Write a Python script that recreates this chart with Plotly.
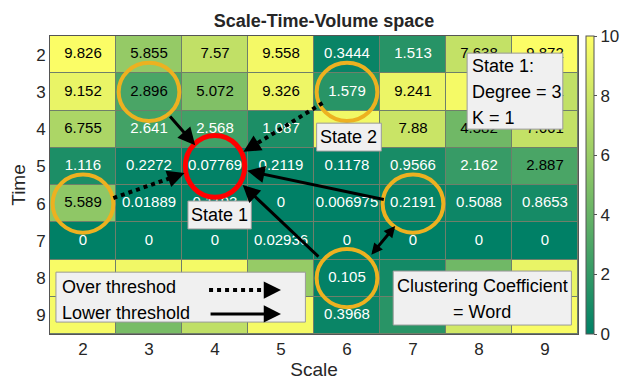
import plotly.graph_objects as go

# Scale (x) / Time (y) grid and the volume values of each cell
scales = [2, 3, 4, 5, 6, 7, 8, 9]
times = [2, 3, 4, 5, 6, 7, 8, 9]
volume = [
    [9.826, 5.855, 7.57, 9.558, 0.3444, 1.513, 7.638, 9.872],
    [9.152, 2.896, 5.072, 9.326, 1.579, 9.241, 9.62, 7.561],
    [6.755, 2.641, 2.568, 1.087, 9.47, 7.88, 4.382, 7.661],
    [1.116, 0.2272, 0.07769, 0.2119, 0.1178, 0.9566, 2.162, 2.887],
    [5.589, 0.01889, 0.1193, 0, 0.006975, 0.2191, 0.5088, 0.8653],
    [0, 0, 0, 0.02936, 0, 0, 0, 0],
    [9.71, 9.45, 9.58, 5.9, 0.105, 0.8, 4.4, 9.13],
    [9.66, 4.7, 7.5, 9.62, 0.3968, 1.6, 8.2, 9.77],
]
# highlighted cells (scale, time)
orange_cells = [(3, 3), (6, 3), (2, 6), (7, 6), (6, 8)]
red_cell = (4, 5)
# cells whose label sits fully under a text box
covered_cells = [(8, 3), (6, 4),
                 (2, 8), (3, 8), (4, 8), (5, 8), (7, 8), (8, 8), (9, 8),
                 (2, 9), (3, 9), (4, 9), (5, 9), (7, 9), (8, 9), (9, 9)]

FONT = "Liberation Sans, Arial, sans-serif"
INK = "#262626"

fig = go.Figure()
fig.add_trace(go.Heatmap(
    x=scales, y=times, z=volume,
    zmin=0, zmax=10,
    colorscale=[[0, "rgb(0,128,102)"], [1, "rgb(255,255,102)"]],
    xgap=1, ygap=1,
    hoverinfo="skip",
    colorbar=dict(
        x=1, xanchor="left", xpad=8, thickness=8, len=1, ypad=0,
        outlinewidth=1, outlinecolor="#555555",
        ticks="outside", ticklen=3, tickcolor="#555555",
        tickvals=[0, 2, 4, 6, 8, 10],
        tickfont=dict(family=FONT, size=17, color=INK),
    ),
))

# cell labels
tx, ty, tt, tc = [], [], [], []
for i, t in enumerate(times):
    for j, s in enumerate(scales):
        if (s, t) in covered_cells:
            continue
        v = volume[i][j]
        tx.append(s)
        ty.append(t)
        tt.append(format(v, ".4g"))
        tc.append("white" if v < 2.75 else "black")
fig.add_trace(go.Scatter(
    x=tx, y=ty, text=tt, mode="text",
    textfont=dict(family=FONT, size=15, color=tc),
    hoverinfo="skip", showlegend=False,
))

shapes = []
for (s, t) in orange_cells:
    shapes.append(dict(type="circle", xref="x", yref="y",
                       x0=s - 0.46, x1=s + 0.46, y0=t - 0.78, y1=t + 0.78,
                       line=dict(color="#EDB120", width=4)))
s, t = red_cell
shapes.append(dict(type="circle", xref="x", yref="y",
                   x0=s - 0.45, x1=s + 0.45, y0=t - 0.83, y1=t + 0.83,
                   line=dict(color="#FF0000", width=5)))

annotations = []


def arrow(tail, head, dotted=False, both=False, size=1.15):
    if dotted:
        k = 0.82
        mid = (tail[0] + (head[0] - tail[0]) * k, tail[1] + (head[1] - tail[1]) * k)
        shapes.append(dict(type="line", xref="x", yref="y",
                           x0=tail[0], y0=tail[1], x1=mid[0], y1=mid[1],
                           line=dict(color="black", width=4, dash="dot")))
        tail = mid
    annotations.append(dict(
        x=head[0], y=head[1], ax=tail[0], ay=tail[1],
        xref="x", yref="y", axref="x", ayref="y",
        text="", showarrow=True, arrowhead=2, arrowsize=size,
        arrowwidth=3, arrowcolor="black",
        arrowside="end+start" if both else "end", startarrowhead=2,
        startarrowsize=size,
    ))


arrow((3.30, 3.62), (3.70, 4.43))
arrow((5.63, 3.30), (4.43, 4.61), dotted=True)
arrow((2.46, 5.85), (3.54, 5.18), dotted=True)
arrow((6.58, 5.90), (4.49, 5.12))
arrow((5.59, 7.46), (4.42, 5.50))
arrow((6.35, 7.41), (6.73, 6.60), both=True, size=0.75)


def box(x0, x1, y0, y1):
    shapes.append(dict(type="rect", xref="x", yref="y",
                       x0=x0, x1=x1, y0=y0, y1=y1,
                       fillcolor="#F0F0F0", line=dict(color="#9a9a9a", width=1)))


def label(x, y, text, xanchor="center"):
    annotations.append(dict(x=x, y=y, xref="x", yref="y", text=text,
                            showarrow=False, xanchor=xanchor, yanchor="middle",
                            align=xanchor if xanchor != "center" else "center",
                            font=dict(family=FONT, size=18, color="black")))


box(3.59, 4.55, 5.93, 6.68)
label(4.07, 6.30, "State 1")
box(5.54, 6.52, 3.84, 4.59)
label(6.03, 4.21, "State 2")
box(7.82, 9.27, 1.96, 4.00)
label(7.87, 2.30, "State 1:", "left")
label(7.87, 3.01, "Degree = 3", "left")
label(7.87, 3.69, "K = 1", "left")
box(6.70, 9.40, 7.81, 9.26)
label(8.05, 8.20, "Clustering Coefficient")
label(8.05, 8.92, "= Word")

# legend box
box(1.59, 5.37, 7.84, 9.18)
label(1.65, 8.25, "Over threshod", "left")
label(1.65, 8.94, "Lower threshold", "left")
arrow((3.91, 8.32), (5.00, 8.32), dotted=True)
arrow((3.91, 8.96), (5.00, 8.96))

fig.update_layout(
    width=632, height=382,
    margin=dict(l=42, r=42, t=28, b=56),
    paper_bgcolor="white", plot_bgcolor="#6f7f6a",
    title=dict(text="<b>Scale-Time-Volume space</b>", x=0.5, xanchor="center",
               y=0.968, yanchor="middle",
               font=dict(family=FONT, size=18, color=INK)),
    xaxis=dict(range=[1.5, 9.5], tickvals=scales, showgrid=False, zeroline=False,
               showline=True, mirror=True, linecolor="#555555", ticks="",
               tickfont=dict(family=FONT, size=17, color=INK),
               title=dict(text="Scale", standoff=4,
                          font=dict(family=FONT, size=19, color=INK)),
               automargin=False),
    yaxis=dict(range=[9.5, 1.5], tickvals=times, showgrid=False, zeroline=False,
               showline=True, mirror=True, linecolor="#555555", ticks="",
               tickfont=dict(family=FONT, size=17, color=INK),
               title=dict(text="Time", standoff=6,
                          font=dict(family=FONT, size=19, color=INK)),
               automargin=False),
    shapes=shapes,
    annotations=annotations,
    showlegend=False,
)

fig.write_html("out.html")
